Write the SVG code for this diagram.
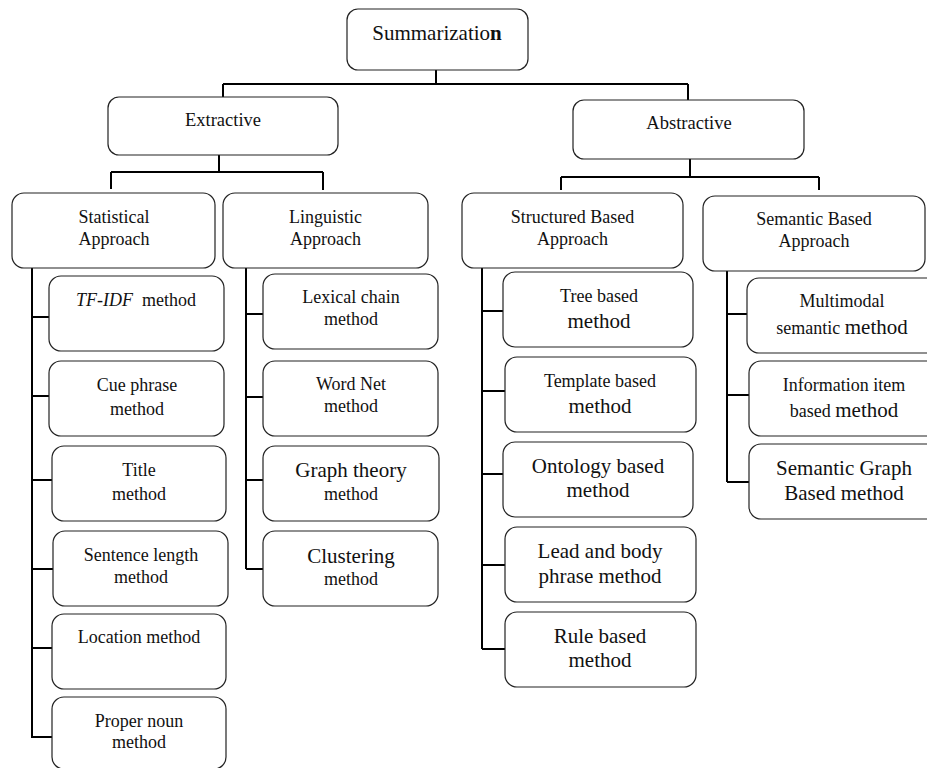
<svg xmlns="http://www.w3.org/2000/svg" width="927" height="768" viewBox="0 0 927 768">
<style>
.box{fill:#fff;stroke:#222;stroke-width:1.2}
.con{fill:none;stroke:#000;stroke-width:2}
text{font-family:'Liberation Serif','DejaVu Serif','Times New Roman',Times,serif;fill:#111;text-anchor:middle}
.s{font-size:18px}
.l{font-size:21px}
.m{font-size:18.5px}
</style>
<rect width="927" height="768" fill="#fff"/>
<g id="connectors">
<path class="con" d="M436 70V84M223 84H688M223 84V97M688 84V100"/>
<path class="con" d="M219 155V172M111 172H323M111 172V189M323 172V190"/>
<path class="con" d="M690 159V177M561 177H819M561 177V190M819 177V190"/>
<path class="con" d="M32 268V738M32 317H49M32 396H49M32 480H52M32 569H53M32 648H52M32 737H52"/>
<path class="con" d="M246 268V569M246 314H263M246 397H263M246 480H263M246 569H263"/>
<path class="con" d="M482 268V649M482 311H503M482 391H505M482 474H503M482 565H505M482 649H505"/>
<path class="con" d="M727 271V482M727 314H747M727 395H749M727 482H749"/>
</g>
<g font-family="Liberation Serif, serif">
<g id="summarization"><rect class="box" x="347" y="9" width="181" height="61" rx="11"/><text class="l" x="437" y="40">Summarizatio<tspan font-weight="bold">n</tspan></text></g>
<g id="extractive"><rect class="box" x="108" y="97" width="230" height="58" rx="11"/><text class="m" x="223" y="126">Extractive</text></g>
<g id="abstractive"><rect class="box" x="573" y="100" width="231" height="59" rx="11"/><text class="m" x="689" y="129">Abstractive</text></g>
<g id="statistical"><rect class="box" x="12" y="193" width="203" height="75" rx="12"/><text class="s" x="114" y="223">Statistical</text><text class="s" x="114" y="245">Approach</text></g>
<g id="linguistic"><rect class="box" x="223" y="193" width="205" height="75" rx="12"/><text class="s" x="325.5" y="223">Linguistic</text><text class="s" x="325.5" y="245">Approach</text></g>
<g id="structured"><rect class="box" x="462" y="193" width="221" height="75" rx="12"/><text class="s" x="572.5" y="223">Structured Based</text><text class="s" x="572.5" y="245">Approach</text></g>
<g id="semantic"><rect class="box" x="703" y="196" width="222" height="75" rx="12"/><text class="s" x="814" y="225">Semantic Based</text><text class="s" x="814" y="247">Approach</text></g>
<g id="tfidf"><rect class="box" x="49" y="276" width="175" height="75" rx="12"/><text class="s" x="136" y="306"><tspan font-style="italic">TF-IDF</tspan><tspan dx="9">method</tspan></text></g>
<g id="cue"><rect class="box" x="49" y="361" width="175" height="75" rx="12"/><text class="s" x="137" y="391">Cue phrase</text><text class="s" x="137" y="415">method</text></g>
<g id="title"><rect class="box" x="52" y="446" width="174" height="75" rx="12"/><text class="s" x="139" y="476">Title</text><text class="s" x="139" y="500">method</text></g>
<g id="sentence"><rect class="box" x="53" y="531" width="175" height="75" rx="12"/><text class="s" x="141" y="561">Sentence length</text><text class="s" x="141" y="583">method</text></g>
<g id="location"><rect class="box" x="52" y="614" width="174" height="75" rx="12"/><text class="s" x="139" y="643">Location method</text></g>
<g id="proper"><rect class="box" x="52" y="697" width="174" height="72" rx="12"/><text class="s" x="139" y="727">Proper noun</text><text class="s" x="139" y="748">method</text></g>
<g id="lexical"><rect class="box" x="263" y="274" width="175" height="75" rx="12"/><text class="s" x="351" y="303">Lexical chain</text><text class="s" x="351" y="325">method</text></g>
<g id="wordnet"><rect class="box" x="263" y="361" width="175" height="75" rx="12"/><text class="s" x="351" y="390">Word Net</text><text class="s" x="351" y="412">method</text></g>
<g id="graph"><rect class="box" x="263" y="446" width="176" height="75" rx="12"/><text class="l" x="351" y="477">Graph theory</text><text class="s" x="351" y="500">method</text></g>
<g id="clustering"><rect class="box" x="263" y="531" width="175" height="75" rx="12"/><text class="l" x="351" y="563">Clustering</text><text class="s" x="351" y="585">method</text></g>
<g id="tree"><rect class="box" x="503" y="272" width="190" height="75" rx="12"/><text class="s" x="599" y="302">Tree based</text><text class="l" x="599" y="328">method</text></g>
<g id="template"><rect class="box" x="505" y="357" width="191" height="75" rx="12"/><text class="s" x="600" y="387">Template based</text><text class="l" x="600" y="413">method</text></g>
<g id="ontology"><rect class="box" x="503" y="442" width="190" height="75" rx="12"/><text class="l" x="598" y="473">Ontology based</text><text class="l" x="598" y="497">method</text></g>
<g id="lead"><rect class="box" x="505" y="527" width="191" height="75" rx="12"/><text class="l" x="600" y="558">Lead and body</text><text class="l" x="600" y="583">phrase method</text></g>
<g id="rule"><rect class="box" x="505" y="612" width="191" height="75" rx="12"/><text class="l" x="600" y="643">Rule based</text><text class="l" x="600" y="667">method</text></g>
<g id="multimodal"><rect class="box" x="747" y="278" width="195" height="75" rx="12"/><text class="s" x="842" y="307">Multimodal</text><text class="s" x="842" y="334">semantic <tspan font-size="21px">method</tspan></text></g>
<g id="information"><rect class="box" x="749" y="361" width="195" height="75" rx="12"/><text class="s" x="844" y="391">Information item</text><text class="s" x="844" y="417">based <tspan font-size="21px">method</tspan></text></g>
<g id="semgraph"><rect class="box" x="749" y="444" width="195" height="75" rx="12"/><text class="l" x="844" y="475">Semantic Graph</text><text class="l" x="844" y="500">Based method</text></g>
</g>
</svg>
